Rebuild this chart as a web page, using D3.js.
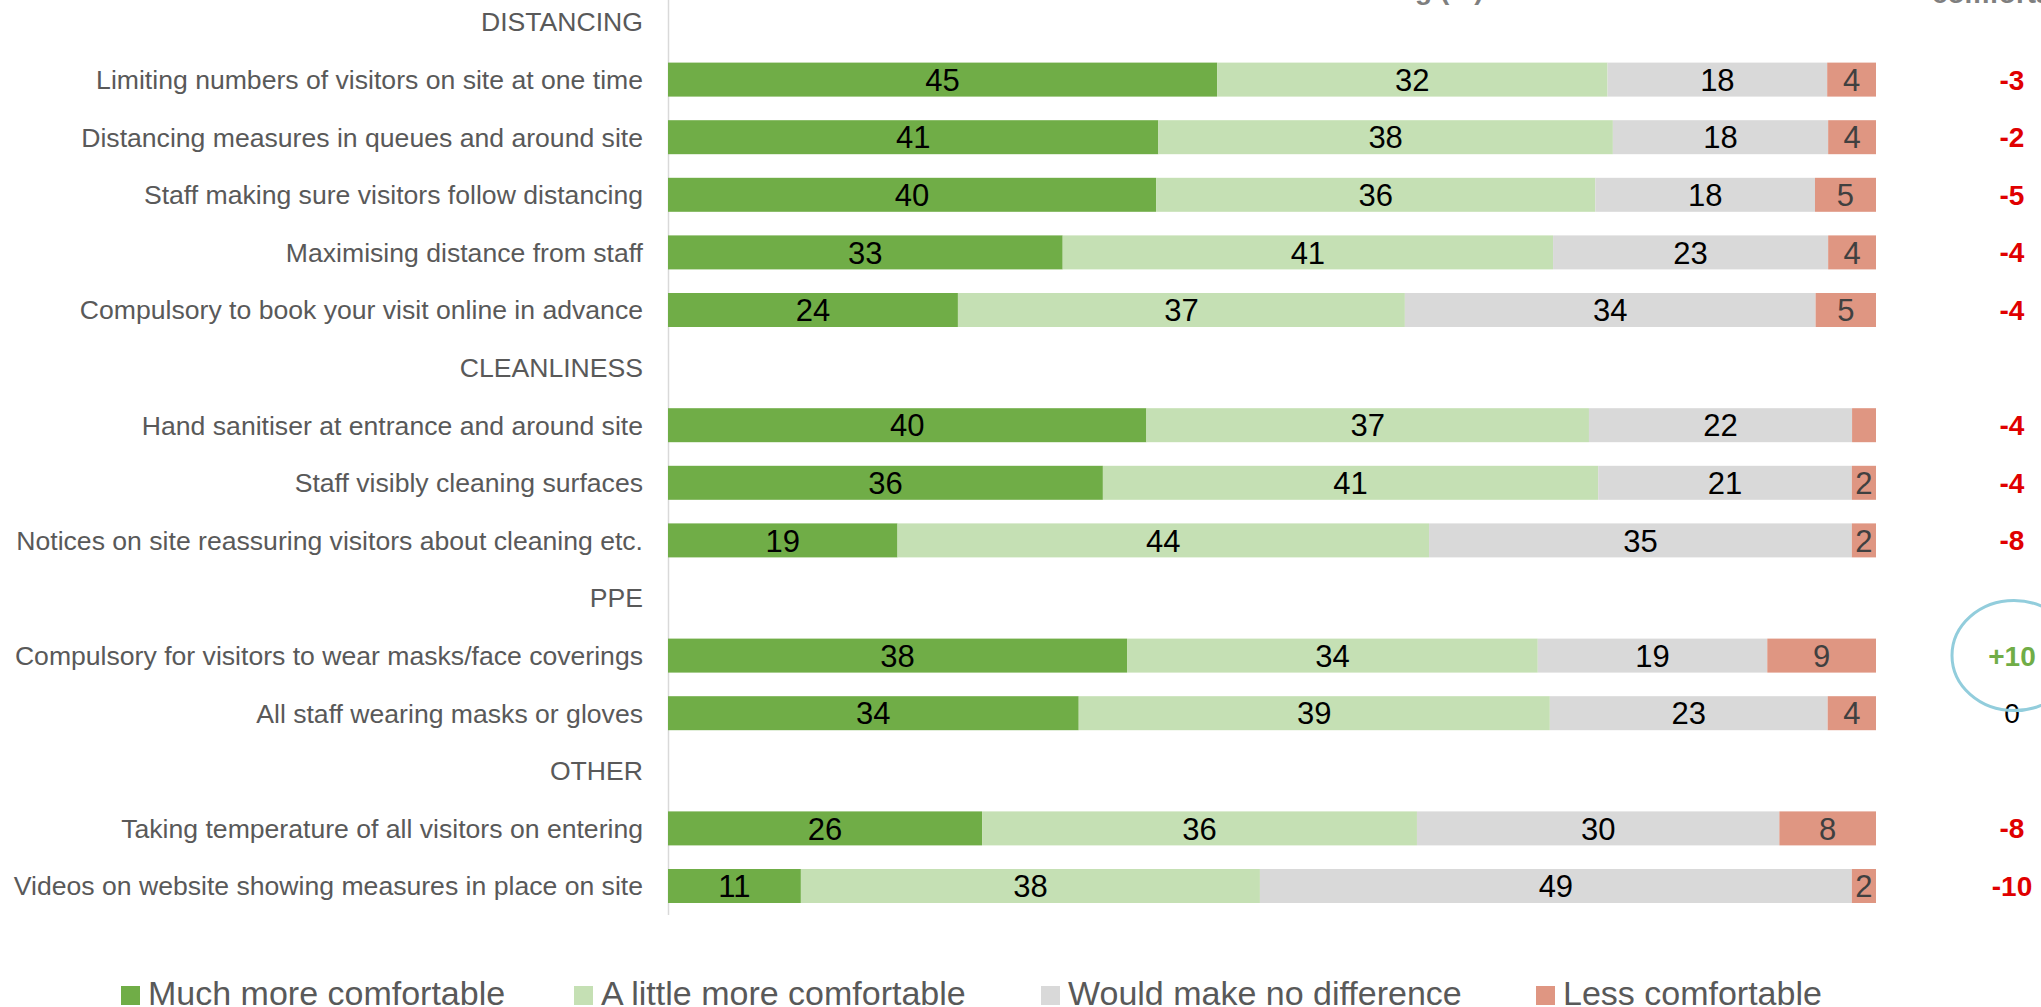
<!DOCTYPE html>
<html><head><meta charset="utf-8">
<script src="https://cdn.jsdelivr.net/npm/d3@7"></script>
<style>html,body{margin:0;padding:0;background:#fff;overflow:hidden}svg{display:block;font-family:"Liberation Sans",Arial,sans-serif}</style>
</head><body><svg id="c" width="2041" height="1007"></svg>
<script>
const rowLabels = ["DISTANCING",
 "Limiting numbers of visitors on site at one time",
 "Distancing measures in queues and around site",
 "Staff making sure visitors follow distancing",
 "Maximising distance from staff",
 "Compulsory to book your visit online in advance",
 "CLEANLINESS",
 "Hand sanitiser at entrance and around site",
 "Staff visibly cleaning surfaces",
 "Notices on site reassuring visitors about cleaning etc.",
 "PPE",
 "Compulsory for visitors to wear masks/face coverings",
 "All staff wearing masks or gloves",
 "OTHER",
 "Taking temperature of all visitors on entering",
 "Videos on website showing measures in place on site"];
const isHeader = [1,0,0,0,0,0,1,0,0,0,1,0,0,1,0,0];
const seriesNames = ["Much more comfortable","A little more comfortable","Would make no difference","Less comfortable"];
const much   = [45,41,40,33,24,40,36,19,38,34,26,11];
const little = [32,38,36,41,37,37,41,44,34,39,36,38];
const noDiff = [18,18,18,23,34,22,21,35,19,23,30,49];
const less   = [4,4,5,4,5,2,2,2,9,4,8,2];
const lessShown = [1,1,1,1,1,0,1,1,1,1,1,1];
const netLabels = ["-3","-2","-5","-4","-4","-4","-4","-8","+10","0","-8","-10"];
const headerLabels = ["Effect on comfort of visiting (%)","comfortable"];
const colors = ["#70ad47","#c5e0b4","#d9d9d9","#df9682"];
const labelColors = ["#000","#000","#000","#404040"];

const svg = d3.select("#c");
const x = d3.scaleLinear().domain([0,1]).range([668,1876]);
const y = d3.scaleLinear().domain([0,15]).range([22,886]);
const barH = 34;

// headers (clipped at top)
svg.append("text").attr("x",1272).attr("y",-1).attr("text-anchor","middle")
  .attr("font-size",28).attr("font-weight","bold").attr("fill","#7f7f7f")
  .text(headerLabels[0]);
svg.append("text").attr("x",2012).attr("y",3).attr("text-anchor","middle")
  .attr("font-size",28).attr("font-weight","bold").attr("fill","#7f7f7f")
  .text(headerLabels[1]);

// axis line
svg.append("line").attr("x1",668.5).attr("x2",668.5).attr("y1",0).attr("y2",915)
  .attr("stroke","#d9d9d9").attr("stroke-width",1.5);

// row labels
svg.selectAll("text.row").data(rowLabels).join("text").attr("class","row")
  .attr("x",643).attr("y",(d,i)=>y(i)).attr("dy","0.35em").attr("text-anchor","end")
  .attr("font-size",26.6).attr("fill","#595959").text(d=>d);

// item rows
const itemRows = rowLabels.map((d,i)=>i).filter(i=>!isHeader[i]);
const data = itemRows.map((r,k)=>{
  const vals=[much[k],little[k],noDiff[k],less[k]];
  const tot=d3.sum(vals); let c=0;
  return {row:r, segs: vals.map((v,j)=>{const s={j,v,x0:c/tot,x1:(c+v)/tot,show: j<3||lessShown[k]}; c+=v; return s;}), net: netLabels[k]};
});
const g = svg.selectAll("g.bar").data(data).join("g").attr("class","bar");
g.selectAll("rect").data(d=>d.segs.map(s=>({...s,row:d.row}))).join("rect")
  .attr("x",s=>x(s.x0)).attr("width",s=>x(s.x1)-x(s.x0))
  .attr("y",s=>y(s.row)-barH/2).attr("height",barH).attr("fill",s=>colors[s.j]);
g.selectAll("text").data(d=>d.segs.filter(s=>s.show).map(s=>({...s,row:d.row}))).join("text")
  .attr("x",s=>(x(s.x0)+x(s.x1))/2).attr("y",s=>y(s.row)).attr("dy","0.36em")
  .attr("text-anchor","middle").attr("font-size",31).attr("fill",s=>labelColors[s.j]).text(s=>s.v);

// net column
svg.selectAll("text.net").data(data).join("text").attr("class","net")
  .attr("x",2012).attr("y",d=>y(d.row)).attr("dy","0.36em").attr("text-anchor","middle")
  .attr("font-size",28)
  .attr("font-weight",d=>d.net==="0"?"normal":"bold")
  .attr("fill",d=>d.net==="0"?"#000":(d.net.startsWith("+")?"#70ad47":"#e00000"))
  .text(d=>d.net);
const hl = data.find(d=>d.net.startsWith("+"));
svg.append("ellipse").attr("cx",2014).attr("cy",y(hl.row)).attr("rx",62).attr("ry",55)
  .attr("fill","none").attr("stroke","#92cddc").attr("stroke-width",3);

// legend
const legX = [121,574,1041,1536];
const lg = svg.selectAll("g.leg").data(seriesNames).join("g").attr("class","leg")
  .attr("transform",(d,i)=>`translate(${legX[i]},0)`);
lg.append("rect").attr("x",0).attr("y",986).attr("width",19).attr("height",19).attr("fill",(d,i)=>colors[i]);
lg.append("text").attr("x",27).attr("y",1005).attr("font-size",34).attr("fill","#595959").text(d=>d);
</script></body></html>
